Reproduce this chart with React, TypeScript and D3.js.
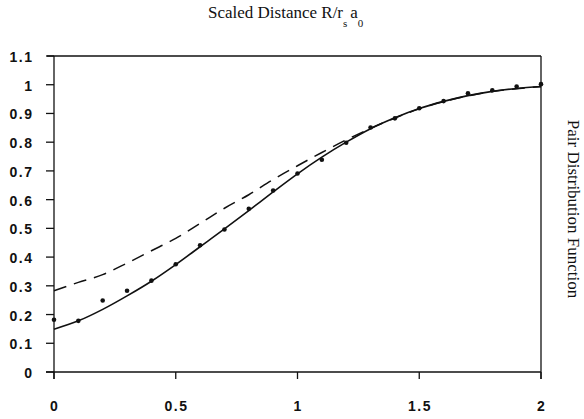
import React from "react";
import * as d3 from "d3";

const xValues = [0, 0.1, 0.2, 0.3, 0.4, 0.5, 0.6, 0.7, 0.8, 0.9, 1.0, 1.1, 1.2, 1.3, 1.4, 1.5, 1.6, 1.7, 1.8, 1.9, 2.0];
const dotValues = [0.182, 0.178, 0.249, 0.283, 0.318, 0.375, 0.441, 0.496, 0.568, 0.632, 0.691, 0.739, 0.798, 0.851, 0.883, 0.918, 0.943, 0.970, 0.981, 0.994, 1.002];
const solidValues = [0.149, 0.178, 0.218, 0.265, 0.316, 0.374, 0.436, 0.498, 0.562, 0.627, 0.690, 0.748, 0.800, 0.847, 0.885, 0.917, 0.942, 0.962, 0.977, 0.987, 0.994];
const dashedValues = [0.283, 0.312, 0.339, 0.379, 0.422, 0.465, 0.517, 0.570, 0.617, 0.670, 0.718, 0.764, 0.808, 0.848, 0.884, 0.916, 0.941, 0.961, 0.976, 0.986, 0.993];
const yTicks = [0, 0.1, 0.2, 0.3, 0.4, 0.5, 0.6, 0.7, 0.8, 0.9, 1, 1.1];
const yTickLabels = ["0", "0.1", "0.2", "0.3", "0.4", "0.5", "0.6", "0.7", "0.8", "0.9", "1", "1.1"];
const xTicks = [0, 0.5, 1, 1.5, 2];
const xTickLabels = ["0", "0.5", "1", "1.5", "2"];

export default function App() {
  const W = 584, H = 419;
  const left = 54, right = 541, top = 56, bottom = 372;
  const x = d3.scaleLinear().domain([0, 2]).range([left, right]);
  const y = d3.scaleLinear().domain([0, 1.1]).range([bottom, top]);
  const line = d3.line<number>().x((_, i) => x(xValues[i])).y((d) => y(d)).curve(d3.curveMonotoneX);
  const tickFont = { fontFamily: "'Liberation Sans', Arial, sans-serif", fontSize: 14, fontWeight: 700 as const, letterSpacing: 1.5 };
  const serif = "'Liberation Serif', 'Times New Roman', serif";
  return (
    <svg width={W} height={H} style={{ position: "absolute", left: 0, top: 0, background: "#fff" }}>
      <rect x={0} y={0} width={W} height={H} fill="#fff" />
      <g stroke="#111" strokeWidth={1.3} fill="none">
        <line x1={left - 7} x2={right} y1={top} y2={top} />
        <line x1={left - 8} x2={right} y1={bottom} y2={bottom} />
        <line x1={left} x2={left} y1={top} y2={bottom + 7} />
        <line x1={right} x2={right} y1={top} y2={bottom + 7} />
        {yTicks.map((t) => (
          <line key={"yt" + t} x1={left - 8} x2={left} y1={y(t)} y2={y(t)} />
        ))}
        {xTicks.map((t) => (
          <line key={"xt" + t} x1={x(t)} x2={x(t)} y1={bottom} y2={bottom + 7} />
        ))}
      </g>
      {yTicks.map((t, i) => (
        <text key={"yl" + t} x={33.5} y={y(t) + 6} textAnchor="end" {...tickFont} fill="#111">
          {yTickLabels[i]}
        </text>
      ))}
      {xTicks.map((t, i) => (
        <text key={"xl" + t} x={x(t) + 0.75} y={411} textAnchor="middle" {...tickFont} fill="#111">
          {xTickLabels[i]}
        </text>
      ))}
      <path d={line(dashedValues) || ""} fill="none" stroke="#111" strokeWidth={1.5} strokeDasharray="13 8" />
      <path d={line(solidValues) || ""} fill="none" stroke="#111" strokeWidth={1.6} />
      {dotValues.map((v, i) => (
        <circle key={"d" + i} cx={x(xValues[i])} cy={y(v)} r={2.3} fill="#111" />
      ))}
      <text x={208} y={18} fontFamily={serif} fontSize={17} fill="#111">
        Scaled Distance R/r
        <tspan dy={9} fontSize={11}>s</tspan>
        <tspan dy={-9} dx={3}>a</tspan>
        <tspan dy={9} fontSize={11}>0</tspan>
      </text>
      <text transform="translate(568,209) rotate(90)" textAnchor="middle" fontFamily={serif} fontSize={17} fill="#111">
        Pair Distribution Function
      </text>
    </svg>
  );
}
